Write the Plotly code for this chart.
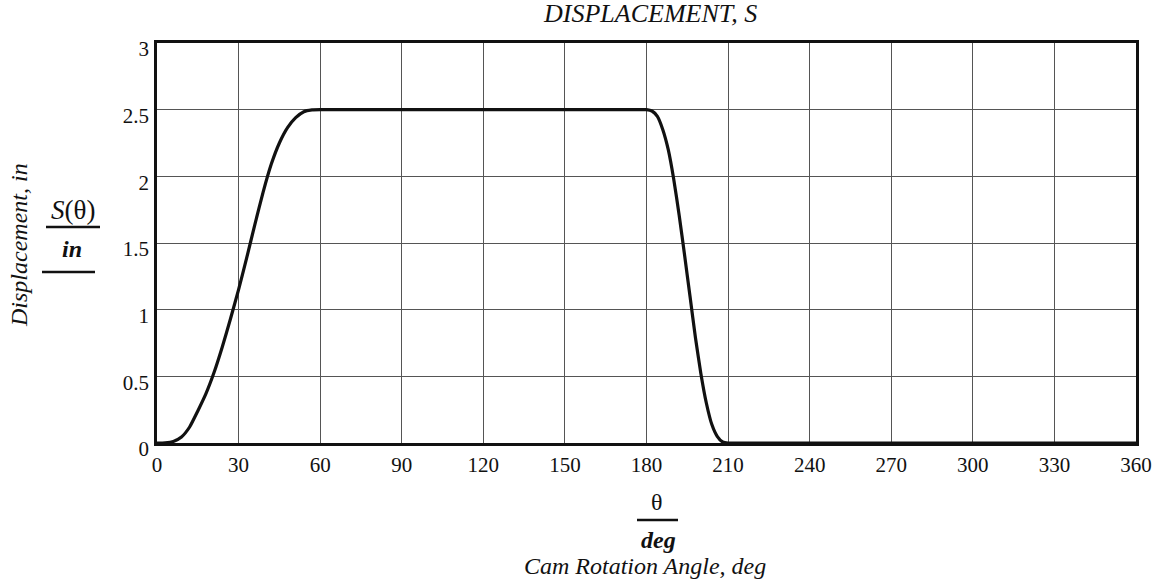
import plotly.graph_objects as go

# Data
theta_deg = [0, 3, 6, 9, 12, 15, 18, 21, 24, 27, 30, 33, 36, 39, 42, 45, 48, 51, 54, 57, 60,
             63, 90, 120, 150, 177, 180, 182, 184, 186, 188, 190, 192, 194, 196, 198, 200, 202,
             204, 206, 208, 210, 213, 240, 270, 300, 330, 360]
s_in = [0, 0.002, 0.012, 0.045, 0.12, 0.24, 0.37, 0.53, 0.72, 0.93, 1.15, 1.39, 1.64, 1.88, 2.09, 2.25, 2.365, 2.44, 2.485, 2.498, 2.5,
        2.5, 2.5, 2.5, 2.5, 2.5, 2.5, 2.49, 2.45, 2.35, 2.2, 1.98, 1.71, 1.41, 1.1, 0.79, 0.52, 0.30,
        0.14, 0.05, 0.008, 0, 0, 0, 0, 0, 0, 0]

x_ticks = [0, 30, 60, 90, 120, 150, 180, 210, 240, 270, 300, 330, 360]
y_ticks = [0, 0.5, 1, 1.5, 2, 2.5, 3]
y_tick_labels = ["0", "0.5", "1", "1.5", "2", "2.5", "3"]

W, H = 1167, 585
L, R, T, B = 157, 1136, 43, 443
FONT = "Liberation Serif, Times New Roman, serif"


def px(x):
    return (x - L) / (R - L)


def py(y):
    return (B - y) / (B - T)


fig = go.Figure()
fig.add_trace(go.Scatter(x=theta_deg, y=s_in, mode="lines",
                         line=dict(color="#111111", width=3.2, shape="spline", smoothing=0.5),
                         cliponaxis=False, hoverinfo="skip"))

fig.update_layout(
    width=W, height=H,
    margin=dict(l=L, r=W - R, t=T, b=H - B),
    paper_bgcolor="white", plot_bgcolor="white",
    showlegend=False,
    font=dict(family=FONT, size=21, color="#111111"),
)
fig.update_xaxes(range=[0, 360], tickvals=x_ticks, ticktext=[str(v) for v in x_ticks],
                 showgrid=True, gridcolor="#555555", gridwidth=1,
                 showline=True, linecolor="#111111", linewidth=2.5, mirror=True,
                 zeroline=False, ticks="", ticklabelstandoff=1,
                 tickfont=dict(family=FONT, size=21, color="#111111"))
fig.update_yaxes(range=[0, 3], tickvals=y_ticks, ticktext=y_tick_labels,
                 showgrid=True, gridcolor="#555555", gridwidth=1,
                 showline=True, linecolor="#111111", linewidth=2.5, mirror=True,
                 zeroline=False, ticks="", ticklabelstandoff=1, ticklabelshift=6,
                 tickfont=dict(family=FONT, size=21, color="#111111"))

ann = []
ann.append(dict(text="<i>DISPLACEMENT, S</i>", x=px(650), y=py(14), xref="paper", yref="paper",
                showarrow=False, xanchor="center", yanchor="middle",
                font=dict(family=FONT, size=26)))
ann.append(dict(text="<i>Displacement, in</i>", x=px(19), y=py(245), xref="paper", yref="paper",
                showarrow=False, xanchor="center", yanchor="middle", textangle=-90,
                font=dict(family=FONT, size=24)))
ann.append(dict(text="<i>S</i>(θ)", x=px(73), y=py(210), xref="paper", yref="paper",
                showarrow=False, xanchor="center", yanchor="middle",
                font=dict(family=FONT, size=27)))
ann.append(dict(text="<b><i>in</i></b>", x=px(72), y=py(249), xref="paper", yref="paper",
                showarrow=False, xanchor="center", yanchor="middle",
                font=dict(family=FONT, size=24)))
ann.append(dict(text="θ", x=px(657), y=py(502), xref="paper", yref="paper",
                showarrow=False, xanchor="center", yanchor="middle",
                font=dict(family=FONT, size=24)))
ann.append(dict(text="<b><i>deg</i></b>", x=px(658), y=py(540), xref="paper", yref="paper",
                showarrow=False, xanchor="center", yanchor="middle",
                font=dict(family=FONT, size=24)))
ann.append(dict(text="<i>Cam Rotation Angle, deg</i>", x=px(645), y=py(566), xref="paper", yref="paper",
                showarrow=False, xanchor="center", yanchor="middle",
                font=dict(family=FONT, size=24)))
fig.update_layout(annotations=ann)

shapes = [
    dict(type="line", xref="paper", yref="paper", x0=px(46), x1=px(100), y0=py(227), y1=py(227),
         line=dict(color="#111111", width=2.5)),
    dict(type="line", xref="paper", yref="paper", x0=px(42), x1=px(95), y0=py(272), y1=py(272),
         line=dict(color="#111111", width=2.5)),
    dict(type="line", xref="paper", yref="paper", x0=px(637), x1=px(678), y0=py(520), y1=py(520),
         line=dict(color="#111111", width=2.5)),
]
fig.update_layout(shapes=shapes)

fig.write_html("out.html")
